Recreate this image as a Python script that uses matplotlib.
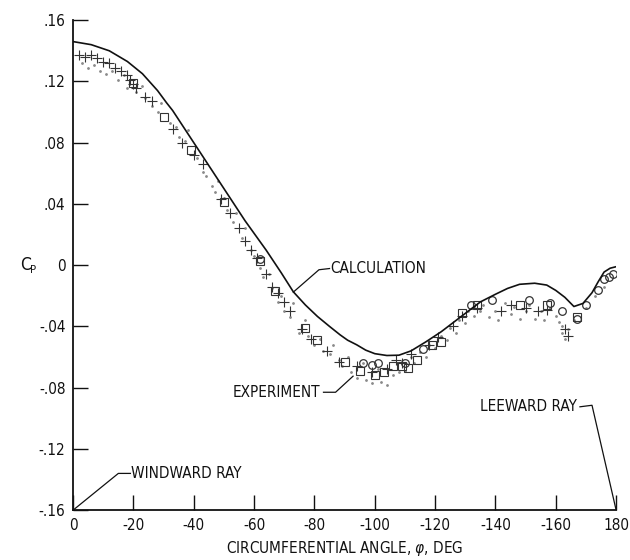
import matplotlib
matplotlib.use("Agg")
import matplotlib.pyplot as plt

# Circumferential angle measured from the windward ray (plotted as |phi|)
calc_phi = [0, 6, 12, 18, 23, 28, 31, 33, 41, 49, 57, 64, 69, 73, 77, 81, 85, 88.5,
            91, 94, 97, 100, 104, 108, 112, 117, 122, 127, 131, 135, 140, 144, 148,
            153, 157, 160, 163, 166, 169, 172, 174, 176, 178, 180]
calc_cp = [.146, .144, .140, .133, .125, .114, .106, .101, .077, .053, .029, .0098,
           -.005, -.0174, -.026, -.0335, -.040, -.0455, -.049, -.052, -.0555, -.0578,
           -.059, -.0588, -.056, -.050, -.0435, -.036, -.030, -.024, -.019, -.0152,
           -.0125, -.0118, -.013, -.0165, -.021, -.027, -.025, -.018, -.011, -.0045,
           -.002, -.001]

plus_phi = [2, 4, 6, 8, 10, 12, 14, 16, 18, 19, 20, 21, 24, 26, 33, 36, 40, 43, 49,
            52, 55, 57, 59, 61, 64, 66, 68, 70, 72, 76, 79, 84, 88, 94, 99, 104, 107,
            109, 112, 118, 121, 126, 129, 134, 142, 145, 150, 154, 157, 163, 164]
plus_cp = [.137, .136, .137, .135, .133, .132, .129, .127, .124, .121, .118, .116,
           .110, .107, .089, .080, .072, .066, .043, .034, .024, .016, .010, .005,
           -.006, -.014, -.018, -.024, -.030, -.042, -.048, -.056, -.063, -.066,
           -.070, -.068, -.062, -.064, -.058, -.052, -.047, -.040, -.033, -.028,
           -.030, -.026, -.028, -.030, -.029, -.042, -.046]

square_phi = [20, 30, 39, 50, 62, 67, 77, 81, 90, 95, 100, 103, 106, 109, 111, 114,
              119, 122, 129, 134, 148, 157, 167]
square_cp = [.119, .097, .075, .041, .003, -.017, -.041, -.049, -.063, -.069, -.072,
             -.070, -.066, -.066, -.067, -.062, -.052, -.050, -.031, -.026, -.026,
             -.026, -.034]

circle_phi = [62, 96, 99, 101, 110, 116, 132, 139, 151, 158, 162, 167, 170, 174,
              176, 177.5, 179]
circle_cp = [.004, -.064, -.065, -.064, -.064, -.055, -.026, -.023, -.023, -.025,
             -.030, -.035, -.026, -.016, -.009, -.008, -.006]

dot_phi = [3, 5, 7, 9, 11, 13, 15, 17, 18, 21, 23, 24, 26, 28, 29, 32, 34, 35, 37, 38,
           41, 43, 44, 46, 47, 48, 50, 51, 53, 54, 56, 57, 59, 60, 62, 63, 65, 66, 68,
           69, 70, 72, 73, 75, 77, 78, 80, 82, 83, 85, 86, 88, 89, 91, 92, 94, 96, 97,
           99, 101, 102, 104, 106, 108, 110, 112, 113, 115, 117, 118, 120, 122, 124,
           125, 127, 128, 130, 131, 133, 135, 136, 138, 140, 141, 143, 145, 146, 148,
           150, 151, 153, 155, 156, 158, 160, 161, 162, 162, 163, 164, 166, 170, 173,
           176]
dot_cp = [.132, .129, .131, .127, .125, .127, .121, .124, .116, .113, .117, .109, .104,
          .100, .106, .093, .090, .084, .081, .088, .070, .061, .058, .052, .048, .055,
          .044, .036, .028, .034, .018, .024, .010, .006, -.002, -.008, -.006, -.015,
          -.024, -.020, -.030, -.034, -.025, -.044, -.036, -.046, -.052, -.048, -.056,
          -.058, -.052, -.062, -.066, -.060, -.070, -.074, -.064, -.075, -.077, -.068,
          -.076, -.078, -.072, -.070, -.069, -.060, -.064, -.057, -.060, -.052, -.054,
          -.046, -.049, -.041, -.044, -.036, -.038, -.030, -.033, -.030, -.026, -.034,
          -.030, -.036, -.025, -.032, -.027, -.035, -.030, -.026, -.035, -.030, -.036,
          -.028, -.033, -.037, -.040, -.044, -.048, -.042, -.036, -.028, -.020, -.014]

x_ticks = [0, 20, 40, 60, 80, 100, 120, 140, 160, 180]
x_tick_labels = ["0", "-20", "-40", "-60", "-80", "-100", "-120", "-140", "-160", "180"]
y_ticks = [-.16, -.12, -.08, -.04, 0, .04, .08, .12, .16]
y_tick_labels = ["-.16", "-.12", "-.08", "-.04", "0", ".04", ".08", ".12", ".16"]

plt.rcParams["font.family"] = ["DejaVu Sans"]
plt.rcParams["font.stretch"] = "condensed"
INK = "#111111"

fig = plt.figure(figsize=(6.3, 5.6), dpi=100)
ax = fig.add_axes([0.116, 0.089, 0.862, 0.875])
ax.set_xlim(0, 180)
ax.set_ylim(-0.16, 0.16)

for side in ("top", "right"):
    ax.spines[side].set_visible(False)
for side in ("left", "bottom"):
    ax.spines[side].set_linewidth(1.3)
    ax.spines[side].set_color(INK)

ax.set_xticks(x_ticks)
ax.set_xticklabels(x_tick_labels)
ax.set_yticks(y_ticks)
ax.set_yticklabels(y_tick_labels)
ax.tick_params(direction="in", length=11, width=1.0, color=INK, labelsize=11,
               labelcolor=INK)
ax.tick_params(axis="x", pad=6)
ax.tick_params(axis="y", pad=5.5)

# experimental scatter
ax.plot(dot_phi, dot_cp, ls="none", marker=".", ms=2.0, color="#8a8a8a", zorder=2)
ax.plot(plus_phi, plus_cp, ls="none", marker="+", ms=7, mew=0.8, color="#333333",
        zorder=3)
ax.plot(square_phi, square_cp, ls="none", marker="s", ms=5.5, mew=0.8, mfc="none",
        mec="#333333", zorder=3)
ax.plot(circle_phi, circle_cp, ls="none", marker="o", ms=5.5, mew=0.9, mfc="none",
        mec="#333333", zorder=3)

# calculated distribution
ax.plot(calc_phi, calc_cp, color=INK, lw=1.2, zorder=4)

lbl = dict(fontsize=11, color=INK, va="center")
lead = dict(color=INK, lw=0.9)

# CALCULATION leader
ax.plot([73, 81.5, 85], [-0.0176, -0.0030, -0.0022], **lead)
ax.text(85.3, -0.0022, "CALCULATION", ha="left", **lbl)

# EXPERIMENT leader
ax.plot([83, 87, 92.8], [-0.083, -0.083, -0.0725], **lead)
ax.text(82, -0.083, "EXPERIMENT", ha="right", **lbl)

# LEEWARD RAY leader
ax.plot([168, 172, 180], [-0.0925, -0.0915, -0.16], **lead)
ax.text(167, -0.0925, "LEEWARD RAY", ha="right", **lbl)

# WINDWARD RAY leader
ax.plot([0, 15, 19], [-0.16, -0.136, -0.136], **lead)
ax.text(19.3, -0.136, "WINDWARD RAY", ha="left", **lbl)

ax.set_xlabel("CIRCUMFERENTIAL ANGLE, $\\varphi$, DEG", fontsize=11, color=INK,
              labelpad=4)
fig.text(0.040, 0.526, "C", fontsize=12.5, color=INK, ha="center", va="center")
fig.text(0.053, 0.517, "P", fontsize=8, color=INK, ha="center", va="center")

fig.savefig("out.png", dpi=100)
